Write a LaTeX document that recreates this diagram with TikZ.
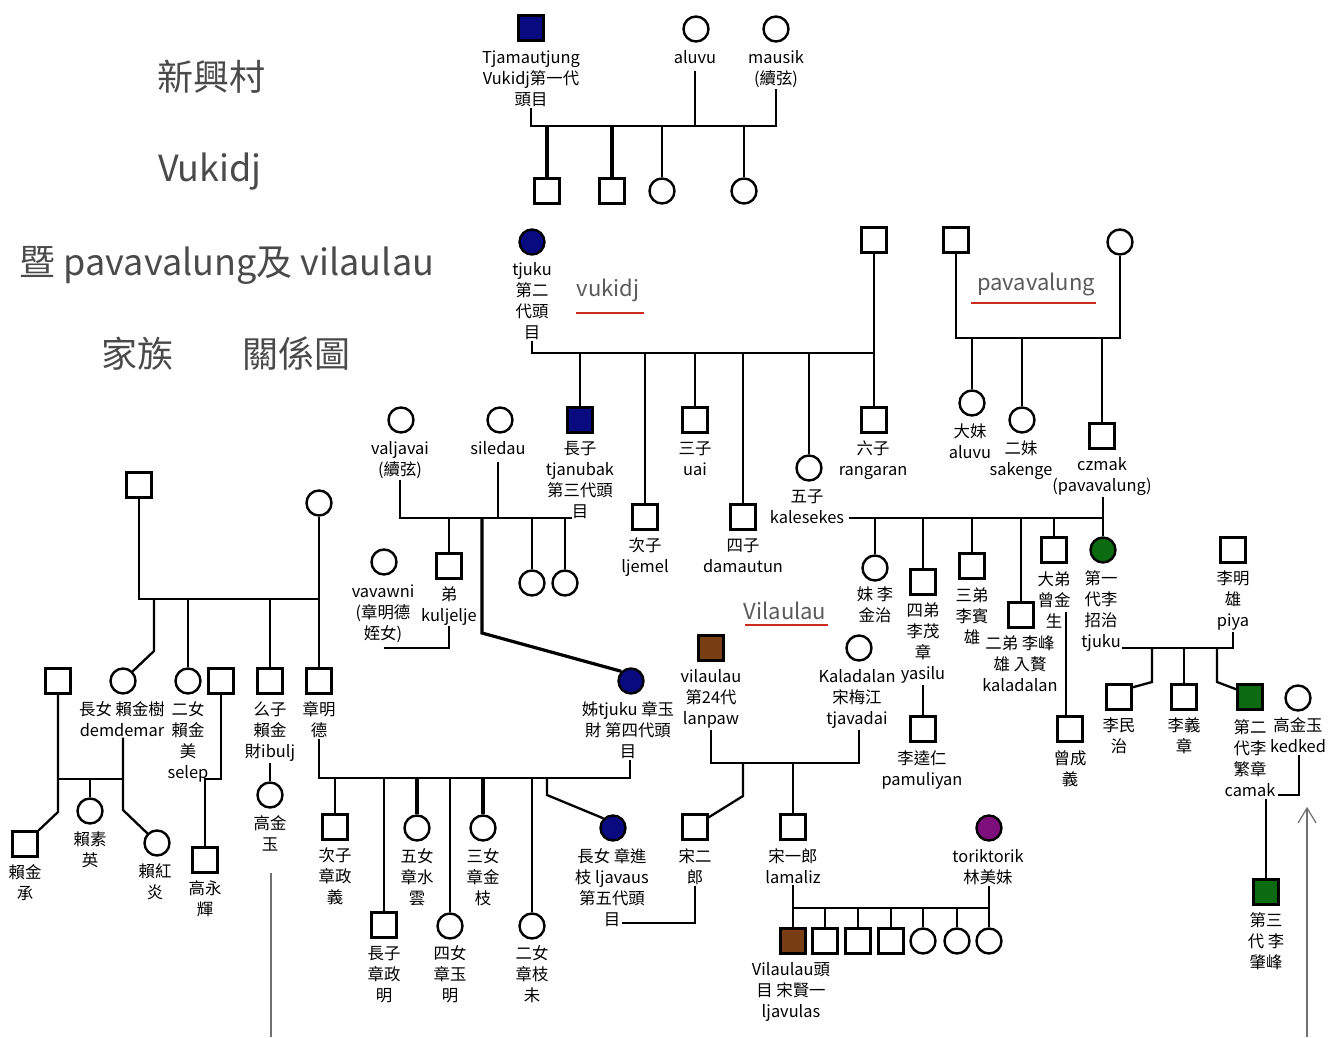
\documentclass[tikz,border=0pt]{standalone}
\usepackage{fontspec}
\setmainfont{Noto Sans CJK TC}
\usetikzlibrary{calc}
\definecolor{cNavy}{HTML}{0A0A80}
\definecolor{cGreen}{HTML}{0C6A10}
\definecolor{cBrown}{HTML}{7A3E14}
\definecolor{cPurple}{HTML}{7C0F7C}
\definecolor{cTitle}{HTML}{4A4A4A}
\definecolor{cFam}{HTML}{5A5A5A}
\definecolor{cRed}{HTML}{CC2B1D}
\definecolor{cThin}{HTML}{707070}
\newcommand\labf{\fontsize{16.4}{21.3}\selectfont}
\newcommand\ttlf{\fontsize{36}{40}\selectfont}
\newcommand\famf{\fontsize{22}{26}\selectfont}
\begin{document}
\begin{tikzpicture}[x=1pt,y=-1pt,line width=2.3pt,
  sq/.style={draw,rectangle,minimum size=25pt,inner sep=0pt,line width=2.4pt,fill=white},
  ci/.style={draw,circle,minimum size=25pt,inner sep=0pt,line width=2.4pt,fill=white},
  lb/.style={anchor=north,align=center,inner sep=0pt,font=\labf},
  ttl/.style={font=\ttlf,text=cTitle,inner sep=0pt},
  fam/.style={font=\famf,text=cFam,inner sep=0pt},
  uline/.style={draw=cRed,line width=2.6pt},
  thk/.style={line width=3.2pt},
  gline/.style={draw=cThin,line width=1.2pt}]
\useasboundingbox (0,0) rectangle (1344,1037);
% ---------- titles
\node[ttl] (ti1) at (211,77) {新興村};
\node[ttl] (ti2) at (210,172) {Vukidj};
\node[ttl] (ti3) at (227,265) {暨 pavavalung及 vilaulau};
\node[ttl] (ti4) at (137,354) {家族};
\node[ttl] (ti5) at (296,354) {關係圖};
% ---------- first generation
\node[sq,fill=cNavy] (tjs) at (531,28) {};
\node[ci] (alu) at (696,29) {};
\node[ci] (mau) at (776,29) {};
\node[lb] (tjL) at (531,47) {\strut Tjamautjung\\Vukidj第一代\\頭目};
\node[lb] (aluL) at (695,47) {\strut aluvu};
\node[lb] (mauL) at (776,47) {\strut mausik\\(續弦)};
\node[sq] (a1) at (547,191) {};
\node[sq] (a2) at (612,191) {};
\node[ci] (a3) at (662,191) {};
\node[ci] (a4) at (744,191) {};
% ---------- vukidj
\node[ci,fill=cNavy] (tju) at (532,242) {};
\node[lb] (tjuL) at (532,259) {\strut tjuku\\第二\\代頭\\目};
\node[sq] (vsq) at (874,240) {};
\node[fam] (vkT) at (608,290) {vukidj};
\draw[uline] (576,313) -- (644,313);
\node[sq,fill=cNavy] (zz1) at (580,420) {};
\node[lb] (zz1L) at (580,438) {\strut 長子\\tjanubak\\第三代頭\\目};
\node[sq] (zz2) at (645,517) {};
\node[lb] (zz2L) at (645,535) {\strut 次子\\ljemel};
\node[sq] (zz3) at (695,420) {};
\node[lb] (zz3L) at (695,438) {\strut 三子\\uai};
\node[sq] (zz4) at (743,517) {};
\node[lb] (zz4L) at (743,535) {\strut 四子\\damautun};
\node[ci] (zz5) at (809,468) {};
\node[lb] (zz5L) at (807,486) {\strut 五子\\kalesekes};
\node[sq] (zz6) at (874,420) {};
\node[lb] (zz6L) at (873,438) {\strut 六子\\rangaran};
% ---------- pavavalung
\node[sq] (psq) at (956,240) {};
\node[ci] (pci) at (1120,242) {};
\node[fam] (pvT) at (1036,284) {pavavalung};
\draw[uline] (971,303) -- (1096,303);
\node[ci] (pm1) at (972,403) {};
\node[lb] (pm1L) at (970,421) {\strut 大妹\\aluvu};
\node[ci] (pm2) at (1022,420) {};
\node[lb] (pm2L) at (1021,438) {\strut 二妹\\sakenge};
\node[sq] (cz) at (1102,436) {};
\node[lb] (czL) at (1102,454) {\strut czmak\\(pavavalung)};
% ---------- kalesekes x czmak children
\node[ci] (mj) at (875,568) {};
\node[lb] (mjL) at (875,584) {\strut 妹 李\\金治};
\node[sq] (sdi) at (923,582) {};
\node[lb] (sdiL) at (923,600) {\strut 四弟\\李茂\\章\\yasilu};
\node[sq] (tt) at (972,566) {};
\node[lb] (ttL) at (972,585) {\strut 三弟\\李賓\\雄};
\node[sq] (ed) at (1021,615) {};
\node[lb] (edL) at (1020,633) {\strut 二弟 李峰\\雄 入贅\\kaladalan};
\node[sq] (dd) at (1054,550) {};
\node[lb] (ddL) at (1054,569) {\strut 大弟\\曾金\\生};
\node[ci,fill=cGreen] (g1) at (1103,550) {};
\node[lb] (g1L) at (1101,568) {\strut 第一\\代李\\招治\\tjuku};
\node[sq] (zcy) at (1070,729) {};
\node[lb] (zcyL) at (1070,748) {\strut 曾成\\義};
\node[sq] (lkr) at (923,729) {};
\node[lb] (lkrL) at (922,748) {\strut 李逵仁\\pamuliyan};
% ---------- Vilaulau
\node[fam] (vlT) at (785,611) {Vilaulau};
\draw[uline] (745,625) -- (828,625);
\node[sq,fill=cBrown] (vl) at (711,648) {};
\node[lb] (vlL) at (711,666) {\strut vilaulau\\第24代\\lanpaw};
\node[ci] (kd) at (859,648) {};
\node[lb] (kdL) at (857,666) {\strut Kaladalan\\宋梅江\\tjavadai};
\node[sq] (s2) at (695,827) {};
\node[lb] (s2L) at (695,846) {\strut 宋二\\郎};
\node[sq] (s1) at (793,827) {};
\node[lb] (s1L) at (793,846) {\strut 宋一郎\\lamaliz};
\node[ci,fill=cPurple] (tor) at (989,828) {};
\node[lb] (torL) at (988,846) {\strut toriktorik\\林美妹};
\node[sq,fill=cBrown] (h1) at (793,941) {};
\node[sq] (h2) at (825,941) {};
\node[sq] (h3) at (858,941) {};
\node[sq] (h4) at (891,941) {};
\node[ci] (h5) at (923,941) {};
\node[ci] (h6) at (957,941) {};
\node[ci] (h7) at (989,941) {};
\node[lb] (vhL) at (791,959) {\strut Vilaulau頭\\目 宋賢一\\ljavulas};
% ---------- valjavai / siledau
\node[ci] (vj) at (401,420) {};
\node[lb] (vjL) at (400,438) {\strut valjavai\\(續弦)};
\node[ci] (sd) at (500,420) {};
\node[lb] (sdL) at (498,438) {\strut siledau};
\node[sq] (kj) at (449,566) {};
\node[lb] (kjL) at (449,584) {\strut 弟\\kuljelje};
\node[ci] (c5a) at (532,583) {};
\node[ci] (c5b) at (565,583) {};
\node[ci] (vw) at (384,562) {};
\node[lb] (vwL) at (383,581) {\strut vavawni\\(章明德\\姪女)};
\node[ci,fill=cNavy] (t4) at (631,681) {};
\node[lb] (t4L) at (628,699) {\strut 姊tjuku 章玉\\財 第四代頭\\目};
% ---------- left family
\node[sq] (lsq) at (139,485) {};
\node[ci] (lci) at (319,503) {};
\node[ci] (ljs) at (123,681) {};
\node[lb] (ljsL) at (122,699) {\strut 長女 賴金樹\\demdemar};
\node[ci] (en) at (188,681) {};
\node[lb] (enL) at (188,699) {\strut 二女\\賴金\\美\\selep};
\node[sq] (esp) at (221,681) {};
\node[sq] (yz) at (270,681) {};
\node[lb] (yzL) at (270,699) {\strut 么子\\賴金\\財ibulj};
\node[sq] (zmd) at (319,681) {};
\node[lb] (zmdL) at (319,699) {\strut 章明\\德};
\node[ci] (gjy) at (270,795) {};
\node[lb] (gjyL) at (270,813) {\strut 高金\\玉};
\node[sq] (gyh) at (205,860) {};
\node[lb] (gyhL) at (205,878) {\strut 高永\\輝};
\node[sq] (lsp) at (58,681) {};
\node[sq] (ljc) at (25,844) {};
\node[lb] (ljcL) at (25,862) {\strut 賴金\\承};
\node[ci] (lsy) at (90,811) {};
\node[lb] (lsyL) at (90,829) {\strut 賴素\\英};
\node[ci] (lhy) at (157,843) {};
\node[lb] (lhyL) at (155,861) {\strut 賴紅\\炎};
% ---------- zhang children
\node[sq] (c2) at (335,827) {};
\node[lb] (c2L) at (335,845) {\strut 次子\\章政\\義};
\node[sq] (c1) at (384,925) {};
\node[lb] (c1L) at (384,943) {\strut 長子\\章政\\明};
\node[ci] (w5) at (417,828) {};
\node[lb] (w5L) at (417,846) {\strut 五女\\章水\\雲};
\node[ci] (w4) at (450,926) {};
\node[lb] (w4L) at (450,943) {\strut 四女\\章玉\\明};
\node[ci] (w3) at (483,828) {};
\node[lb] (w3L) at (483,846) {\strut 三女\\章金\\枝};
\node[ci] (w2) at (532,926) {};
\node[lb] (w2L) at (532,943) {\strut 二女\\章枝\\未};
\node[ci,fill=cNavy] (t5) at (613,828) {};
\node[lb] (t5L) at (612,846) {\strut 長女 章進\\枝 ljavaus\\第五代頭\\目};
% ---------- right side
\node[sq] (lmx) at (1233,550) {};
\node[lb] (lmxL) at (1233,568) {\strut 李明\\雄\\piya};
\node[sq] (lmz) at (1119,697) {};
\node[lb] (lmzL) at (1119,715) {\strut 李民\\治};
\node[sq] (lyz) at (1184,697) {};
\node[lb] (lyzL) at (1184,715) {\strut 李義\\章};
\node[sq,fill=cGreen] (lfz) at (1250,697) {};
\node[lb] (lfzL) at (1250,717) {\strut 第二\\代李\\繁章\\camak};
\node[ci] (kk) at (1298,698) {};
\node[lb] (kkL) at (1298,715) {\strut 高金玉\\kedked};
\node[sq,fill=cGreen] (d3) at (1266,892) {};
\node[lb] (d3L) at (1266,910) {\strut 第三\\代 李\\肇峰};
% =========== connectors
% first generation
\coordinate (b1) at (600,126);
\draw (tjL.south) |- (b1 -| mauL.south) -- (mauL.south);
\draw (aluL.south) -- (aluL.south |- b1);
\draw[thk] (a1.north) -- (a1.north |- b1);
\draw[thk] (a2.north) -- (a2.north |- b1);
\draw (a3.north) -- (a3.north |- b1);
\draw (a4.north) -- (a4.north |- b1);
% vukidj
\coordinate (b2) at (700,353);
\draw (tjuL.south) |- (b2 -| vsq.south);
\draw (vsq.south) -- (zz6.north);
\foreach \n in {zz1,zz2,zz3,zz4,zz5} \draw (\n.north) -- (\n.north |- b2);
% pavavalung
\coordinate (b3) at (1000,338);
\draw (psq.south) |- (b3 -| pci.south) -- (pci.south);
\foreach \n in {pm1,pm2,cz} \draw (\n.north) -- (\n.north |- b3);
\draw (czL.south -| g1.north) -- (g1.north);
% kalesekes bar
\coordinate (kb) at (849,518);
\draw (kb) -- (kb -| g1.north);
\foreach \n in {mj,sdi,tt,ed,dd} \draw (\n.north) -- (\n.north |- kb);
\coordinate (zj) at (1066,612);
\draw (zj) -- (zj |- zcy.north);
\draw (sdiL.south -| lkr.north) -- (lkr.north);
% Vilaulau
\coordinate (b4) at (780,763);
\draw (vlL.south) |- (b4 -| kd.south) -- (kd.south |- kdL.south);
\coordinate (s2k) at (743,796);
\draw (s2k |- b4) -- (s2k) -- ($(s2.north east)+(0,4)$);
\draw (s1.north) -- (s1.north |- b4);
\coordinate (b5) at (900,908);
\draw (s1L.south) |- (b5 -| tor.south) -- (tor.south |- torL.south);
\foreach \n in {h1,h2,h3,h4,h5,h6,h7} \draw (\n.north) -- (\n.north |- b5);
\coordinate (m5) at (622,923);
\draw (s2L.south) |- (m5);
% valjavai
\coordinate (b6) at (572,518);
\draw (vjL.south) |- (b6);
\draw (sdL.south) -- (sdL.south |- b6);
\foreach \n in {kj,c5a,c5b} \draw (\n.north) -- (\n.north |- b6);
\coordinate (tk) at (482,633);
\draw[thk] (tk |- b6) -- (tk) -- (t4.north west);
\coordinate (vwe) at (384,648);
\draw (kjL.south) |- (vwe);
% left family
\coordinate (b7) at (200,599);
\draw (lsq.south) |- (b7 -| lci.south) -- (lci.south);
\draw (lci.south) -- (zmd.north);
\coordinate (lj) at (154,651);
\draw (lj |- b7) -- (lj) -- (ljs.north east);
\draw (en.north) -- (en.north |- b7);
\draw (yz.north) -- (yz.north |- b7);
\coordinate (b8) at (210,779);
\draw (esp.south) |- (b8 -| gyh.north) -- (gyh.north);
\draw (yzL.south) -- (gjy.north);
\coordinate (b9) at (90,779);
\coordinate (lc) at (58,812);
\draw (lsp.south) -- (lc) -- (ljc.north east);
\coordinate (lh) at (123,810);
\draw (ljsL.south -| lh) -- (lh) -- (lhy.north west);
\draw (lc |- b9) -- (lh |- b9);
\draw (lsy.north) -- (lsy.north |- b9);
% zhang ming de family
\coordinate (b10) at (500,778);
\coordinate (t4e) at (630,760);
\draw (zmdL.south) |- (b10 -| t4e) -- (t4e);
\draw (c2.north) -- (c2.north |- b10);
\draw (c1.north) -- (c1.north |- b10);
\draw[thk] (w5.north) -- (w5.north |- b10);
\draw (w4.north) -- (w4.north |- b10);
\draw[thk] (w3.north) -- (w3.north |- b10);
\draw (w2.north) -- (w2.north |- b10);
\coordinate (c5k) at (547,795);
\draw (c5k |- b10) -- (c5k) -- (t5.north west);
% right side
\coordinate (b11) at (1122,648);
\draw (b11) -| (lmxL.south);
\coordinate (rk1) at (1152,682);
\draw (rk1 |- b11) -- (rk1) -- ($(lmz.north east)+(0,4)$);
\draw (lyz.north) -- (lyz.north |- b11);
\coordinate (rk2) at (1217,682);
\draw (rk2 |- b11) -- (rk2) -- ($(lfz.north west)+(0,6)$);
\coordinate (kk1) at (1299,755);
\coordinate (kk2) at (1278,795);
\draw (kk1) |- (kk2);
\coordinate (cm) at (1266,799);
\draw (cm) -- (cm |- d3.north);
% thin grey lines
\coordinate (ar1) at (1307,808);
\coordinate (ar2) at (1307,1037);
\draw[gline] (ar2) -- (ar1);
\draw[gline] ($(ar1)+(-9,15)$) -- (ar1) -- ($(ar1)+(9,15)$);
\coordinate (gl1) at (271,873);
\coordinate (gl2) at (271,1037);
\draw[gline] (gl1) -- (gl2);
\end{tikzpicture}
\end{document}
